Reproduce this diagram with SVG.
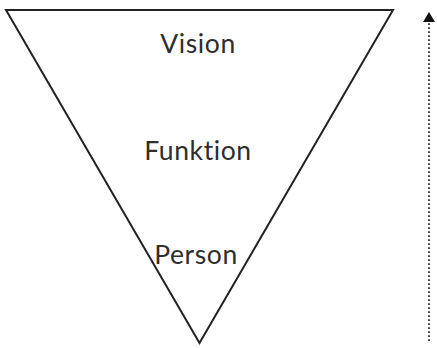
<svg xmlns="http://www.w3.org/2000/svg" width="437" height="348" viewBox="0 0 437 348">
<style>
.lbl{font-family:"Lato","Noto Sans",sans-serif;font-size:26.5px;fill:#2e2e2e;text-anchor:middle;letter-spacing:0.6px;font-variant-ligatures:none}
.tri{fill:none;stroke:#222;stroke-width:2;stroke-linejoin:miter}
.axis{stroke:#222;stroke-width:1.7;stroke-dasharray:1.7 2.3;fill:none}
</style>
<g id="pyramid">
<polygon class="tri" points="6,10 393,10 199.5,343"/>
</g>
<g id="vision"><text class="lbl" x="198" y="53">Vision</text></g>
<g id="funktion"><text class="lbl" x="198" y="160">Funktion</text></g>
<g id="person"><text class="lbl" x="196" y="264">Person</text></g>
<g id="connectors">
<line class="axis" x1="429" y1="341" x2="429" y2="22"/>
<path d="M423,22 L429,12 L435,22 Z" fill="#111"/>
</g>
</svg>
